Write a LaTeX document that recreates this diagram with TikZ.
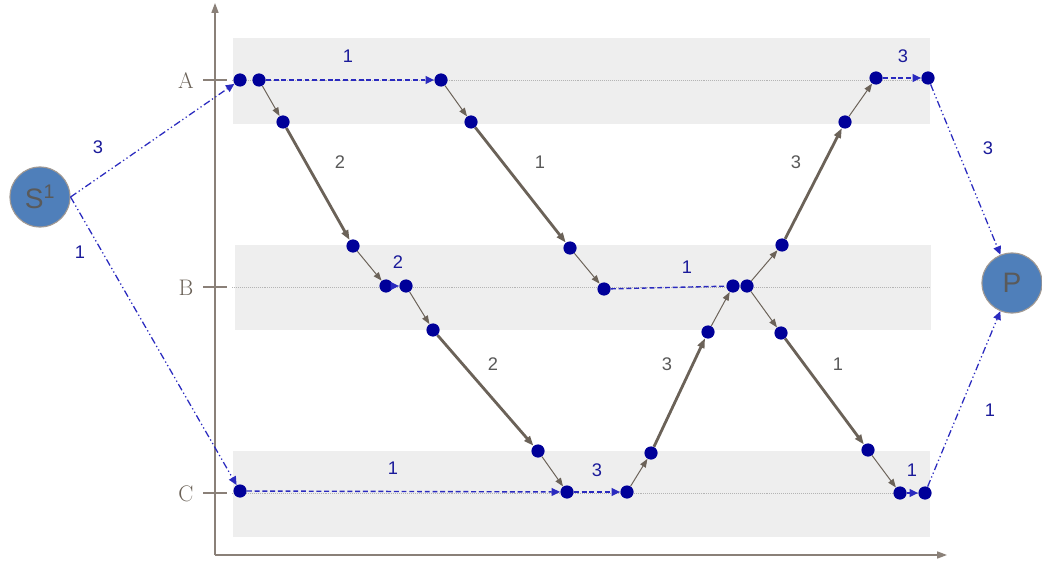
\documentclass[tikz,border=0pt]{standalone}
\usepackage{fontspec}
\setsansfont{Liberation Sans}
\usetikzlibrary{arrows.meta}
\definecolor{Axis}{HTML}{8A8078}
\definecolor{Band}{HTML}{EEEEEE}
\definecolor{Guide}{HTML}{B4B4B4}
\definecolor{Dot}{HTML}{000099}
\definecolor{Hop}{HTML}{2A2ABF}
\definecolor{Leg}{HTML}{6B6258}
\definecolor{Hub}{HTML}{4F7FBA}
\definecolor{HubText}{HTML}{5A5A5A}
\definecolor{Num}{HTML}{1A1A9A}
\definecolor{NumGray}{HTML}{595959}

\tikzset{
  dot/.style={circle,fill=Dot,draw=none,minimum size=0.33cm,inner sep=0pt},
  hub/.style={circle,fill=Hub,draw=Axis!80,line width=0.8pt,minimum size=1.5cm,inner sep=0pt,
    text=HubText,font=\sffamily\fontsize{20}{22}\selectfont},
  rowlabel/.style={text=Leg,font=\fontsize{16}{18}\selectfont},
  num/.style={text=Num,font=\sffamily\fontsize{13}{15}\selectfont},
  numgray/.style={text=NumGray,font=\sffamily\fontsize{13}{15}\selectfont},
  wait/.style={Hop,line width=1pt,dash pattern=on 3.5pt off 2pt,-{Triangle[length=6pt,width=5.5pt]}},
  trip/.style={Hop,line width=0.9pt,dash pattern=on 5pt off 2pt on 0.9pt off 2pt on 0.9pt off 2pt,
    -{Triangle[length=6pt,width=5.5pt]}},
  leg/.style={Leg,line width=0.7pt,-{Triangle[length=6pt,width=4.5pt]}},
  legthick/.style={Leg,line width=2pt,-{Triangle[length=7pt,width=5pt]}},
}

\begin{document}
\begin{tikzpicture}[x=0.025cm,y=-0.025cm]
\useasboundingbox (0,0) rectangle (1042,565);
\fill[white] (0,0) rectangle (1042,565);

% bands per state
\fill[Band] (233,38) rectangle (930,124);
\fill[Band] (235,245) rectangle (931,330);
\fill[Band] (233,451) rectangle (930,537);
\draw[Guide,line width=0.4pt,densely dotted] (232,80) -- (930,80);
\draw[Guide,line width=0.4pt,densely dotted] (232,287) -- (930,287);
\draw[Guide,line width=0.4pt,densely dotted] (232,493) -- (930,493);

% axes
\draw[Axis,line width=1pt,-{Triangle[length=7pt,width=5pt]}] (215,555) -- (215,3);
\draw[Axis,line width=1pt,-{Triangle[length=7pt,width=5pt]}] (215,555) -- (947,555);
\draw[Axis,line width=0.8pt] (203,80) -- (227,80);
\draw[Axis,line width=0.8pt] (203,287) -- (227,287);
\draw[Axis,line width=0.8pt] (203,493) -- (227,493);
\node[rowlabel] (labA) at (186,81) {A};
\node[rowlabel] (labB) at (186,288) {B};
\node[rowlabel] (labC) at (186,494) {C};

% source and sink
\node[hub] (src) at (40,197) {S\textsuperscript{1}};
\node[hub] (snk) at (1012,283) {P};

% row A
\node[dot] (a1) at (240,80) {};
\node[dot] (a2) at (259,80) {};
\node[dot] (a3) at (441,80) {};
\node[dot] (a4) at (876,78) {};
\node[dot] (a5) at (928,78) {};
\node[dot] (ua1) at (283,122) {};
\node[dot] (ua2) at (471,122) {};
\node[dot] (ua3) at (845,122) {};
% row B
\node[dot] (ob1) at (353,246) {};
\node[dot] (ob2) at (570,248) {};
\node[dot] (ob3) at (782,245) {};
\node[dot] (b1) at (386,286) {};
\node[dot] (b2) at (406,286) {};
\node[dot] (b3) at (604,289) {};
\node[dot] (b4) at (733,286) {};
\node[dot] (b5) at (747,286) {};
\node[dot] (ub1) at (433,330) {};
\node[dot] (ub2) at (708,332) {};
\node[dot] (ub3) at (781,333) {};
% row C
\node[dot] (oc1) at (538,451) {};
\node[dot] (oc2) at (651,453) {};
\node[dot] (oc3) at (868,450) {};
\node[dot] (c1) at (240,491) {};
\node[dot] (c2) at (567,492) {};
\node[dot] (c3) at (627,492) {};
\node[dot] (c4) at (900,493) {};
\node[dot] (c5) at (925,493) {};

% trips in and out
\draw[trip] (src.east) -- (a1);
\draw[trip] (src.east) -- (c1);
\draw[trip] (a5) -- (snk);
\draw[trip] (c5) -- (snk);

% waiting
\draw[wait] (a2) -- (a3);
\draw[wait] (a4) -- (a5);
\draw[wait] (b1) -- (b2);
\draw[wait,-] (b3) -- (b4);
\draw[wait] (c1) -- (c2);
\draw[wait] (c2) -- (c3);
\draw[wait] (c4) -- (c5);

% moves
\draw[leg] (a2) -- (ua1);
\draw[legthick] (ua1) -- (ob1);
\draw[leg] (ob1) -- (b1);
\draw[leg] (b2) -- (ub1);
\draw[legthick] (ub1) -- (oc1);
\draw[leg] (oc1) -- (c2);
\draw[leg] (a3) -- (ua2);
\draw[legthick] (ua2) -- (ob2);
\draw[leg] (ob2) -- (b3);
\draw[leg] (c3) -- (oc2);
\draw[legthick] (oc2) -- (ub2);
\draw[leg] (ub2) -- (b4);
\draw[leg] (b5) -- (ob3);
\draw[legthick] (ob3) -- (ua3);
\draw[leg] (ua3) -- (a4);
\draw[leg] (b5) -- (ub3);
\draw[legthick] (ub3) -- (oc3);
\draw[leg] (oc3) -- (c4);

% numbers
\node[num] (n1) at (98,147) {3};
\node[num] (n2) at (80,252) {1};
\node[num] (n3) at (348,56) {1};
\node[num] (n4) at (903,56) {3};
\node[num] (n5) at (988,148) {3};
\node[num] (n6) at (990,410) {1};
\node[num] (n7) at (398,262) {2};
\node[num] (n8) at (687,267) {1};
\node[num] (n9) at (393,468) {1};
\node[num] (n10) at (597,470) {3};
\node[num] (n11) at (912,470) {1};
\node[numgray] (g1) at (340,162) {2};
\node[numgray] (g2) at (540,162) {1};
\node[numgray] (g3) at (796,162) {3};
\node[numgray] (g4) at (493,364) {2};
\node[numgray] (g5) at (667,364) {3};
\node[numgray] (g6) at (838,364) {1};
\end{tikzpicture}
\end{document}
